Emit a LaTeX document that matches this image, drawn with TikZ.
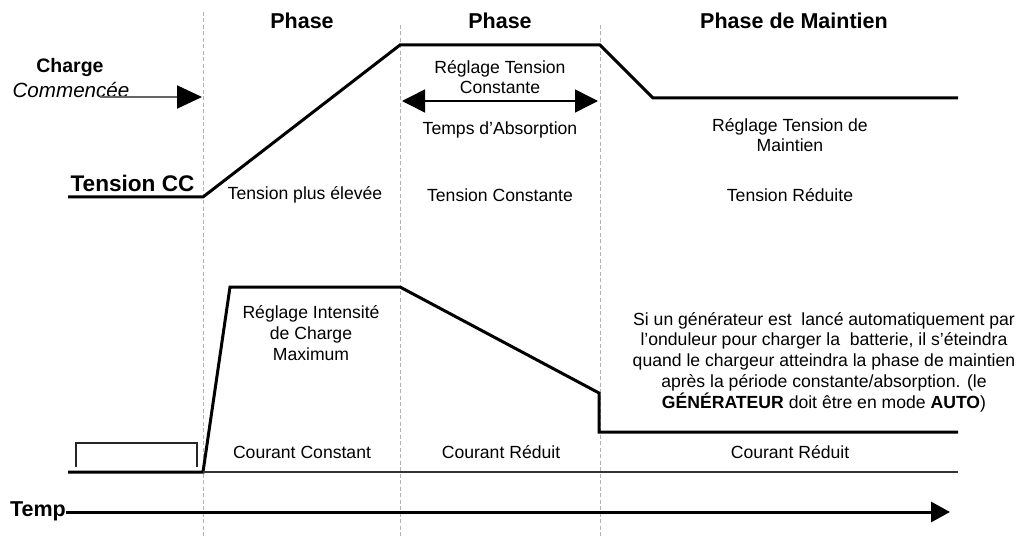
\documentclass[tikz,border=0pt]{standalone}
\usepackage{fontspec}
\setmainfont{Liberation Sans}
\usetikzlibrary{arrows.meta}
\begin{document}
\begin{tikzpicture}[x=1pt,y=-1pt,
  txt/.style={inner sep=0pt,align=center,font=\fontsize{17.6}{20.7}\selectfont},
  head/.style={inner sep=0pt,font=\fontsize{21.5}{24}\selectfont\bfseries},
  curve/.style={line width=3pt,black,line join=miter},
  phaseline/.style={line width=0.8pt,gray!60,dash pattern=on 4pt off 2.5pt},
]
\useasboundingbox (0,0) rectangle (1022,537);

% phase boundaries
\coordinate (b1top) at (203,12);  \coordinate (b1bot) at (203,537);
\coordinate (b2top) at (400,25);  \coordinate (b2bot) at (400,537);
\coordinate (b3top) at (600,25);  \coordinate (b3bot) at (600,537);
\draw[phaseline] (b1top) -- (b1bot);
\draw[phaseline] (b2top) -- (b2bot);
\draw[phaseline] (b3top) -- (b3bot);

% headings
\node[head] (h1) at (302,21) {Phase};
\node[head] (h2) at (500,21) {Phase};
\node[head] (h3) at (794,21) {Phase de Maintien};

% voltage curve
\coordinate (v0) at (68,197);
\coordinate (v1) at (203,197);
\coordinate (v2) at (400,45);
\coordinate (v3) at (600,45);
\coordinate (v4) at (653,98);
\coordinate (v5) at (958,98);
\draw[curve] (v0) -- (v1) -- (v2) -- (v3) -- (v4) -- (v5);

% charge start
\node[inner sep=0pt,font=\fontsize{19.5}{22}\selectfont\bfseries] (charge) at (70,68) {Charge};
\node[inner sep=0pt,font=\fontsize{20.6}{23}\selectfont\itshape] (commencee) at (71,90) {Commencée};
\coordinate (cs) at (100,97);
\coordinate (ce) at (202,97);
\draw[line width=2pt,gray!80!black,-{Triangle[length=25pt,width=23pt,color=black]}] (cs) -- (ce);

\node[inner sep=0pt,font=\fontsize{22.6}{26}\selectfont\bfseries] (tcc) at (132.5,183) {Tension CC};

% absorption span
\node[txt] (rtc) at (500,77) {Réglage Tension\\Constante};
\coordinate (aL) at (402,101);
\coordinate (aR) at (598,101);
\draw[line width=1.5pt,{Triangle[length=23pt,width=23pt]}-{Triangle[length=23pt,width=23pt]}] (aL) -- (aR);
\node[txt] (abs) at (500,130) {Temps d'Absorption};

\node[txt] (rtm) at (790,135) {Réglage Tension de\\Maintien};

\node[txt] (t1) at (305,195) {Tension plus élevée};
\node[txt] (t2) at (500,195) {Tension Constante};
\node[txt] (t3) at (790,195) {Tension Réduite};

% current curve
\coordinate (c0) at (68,472);
\coordinate (c1) at (203,472);
\coordinate (c2) at (230,287);
\coordinate (c3) at (400,287);
\coordinate (c4) at (599,393);
\coordinate (c5) at (599,432);
\coordinate (c6) at (958,432);
\draw[curve] (c0) -- (c1) -- (c2) -- (c3) -- (c4) -- (c5) -- (c6);
\coordinate (base0) at (203,472);
\coordinate (base1) at (958,472);
\draw[line width=1.4pt,black!80] (base0) -- (base1);

% float pulse
\coordinate (p0) at (76,467);
\coordinate (p1) at (76,443);
\coordinate (p2) at (197,443);
\coordinate (p3) at (197,467);
\draw[line width=1.4pt,black!85] (p0) -- (p1) -- (p2) -- (p3);

\node[txt] (rim) at (311,333) {Réglage Intensité\\de Charge\\Maximum};

\node[txt] (note) at (824,362) {Si un générateur est\ \ lancé automatiquement par\\
l'onduleur pour charger la\ \ batterie, il s'éteindra\\
quand le chargeur atteindra la phase de maintien\\
après la période constante/absorption. (le\\
\textbf{GÉNÉRATEUR} doit être en mode \textbf{AUTO})};

\node[txt] (i1) at (302,452) {Courant Constant};
\node[txt] (i2) at (501,452) {Courant Réduit};
\node[txt] (i3) at (790,452) {Courant Réduit};

% time axis
\node[inner sep=0pt,font=\fontsize{21.5}{24}\selectfont\bfseries,anchor=east] (temp) at (66,511) {Temp};
\coordinate (tend) at (950,512);
\draw[line width=3pt,-{Triangle[length=19pt,width=20pt]}] (temp.east) ++(0,1) -- (tend);
\end{tikzpicture}
\end{document}
